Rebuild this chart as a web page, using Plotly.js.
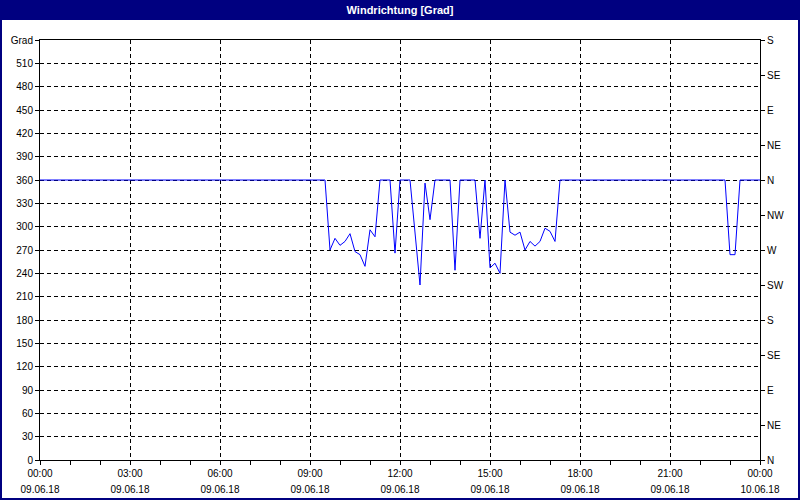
<!DOCTYPE html>
<html>
<head>
<meta charset="utf-8">
<script src="https://cdn.plot.ly/plotly-3.0.1.min.js"></script>
<style>
html,body{margin:0;padding:0;background:#fff;}
#chart{width:800px;height:500px;}
</style>
</head>
<body>
<div id="chart"></div>
<script>
const times = [
  "2018-06-09 00:00","2018-06-09 09:30","2018-06-09 09:40","2018-06-09 09:50","2018-06-09 10:00",
  "2018-06-09 10:10","2018-06-09 10:20","2018-06-09 10:30","2018-06-09 10:40","2018-06-09 10:50",
  "2018-06-09 11:00","2018-06-09 11:10","2018-06-09 11:20","2018-06-09 11:40","2018-06-09 11:50",
  "2018-06-09 12:00","2018-06-09 12:20","2018-06-09 12:30","2018-06-09 12:40","2018-06-09 12:50",
  "2018-06-09 13:00","2018-06-09 13:10","2018-06-09 13:40","2018-06-09 13:50","2018-06-09 14:00",
  "2018-06-09 14:30","2018-06-09 14:40","2018-06-09 14:50","2018-06-09 15:00","2018-06-09 15:10",
  "2018-06-09 15:20","2018-06-09 15:30","2018-06-09 15:40","2018-06-09 15:50","2018-06-09 16:00",
  "2018-06-09 16:10","2018-06-09 16:20","2018-06-09 16:30","2018-06-09 16:40","2018-06-09 16:50",
  "2018-06-09 17:00","2018-06-09 17:10","2018-06-09 17:20","2018-06-09 22:50","2018-06-09 23:00",
  "2018-06-09 23:10","2018-06-09 23:20","2018-06-10 00:00"
];
const direction = [
  360,360,270,285,276,
  281,291,268,264,249,
  296,287,360,360,266,
  360,360,290,225,356,
  309,360,360,244,360,
  360,285,360,247,253,
  240,360,293,289,293,
  270,281,275,281,298,
  294,281,360,360,264,
  264,360,360
];
const xTickVals = ["2018-06-09 00:00","2018-06-09 03:00","2018-06-09 06:00","2018-06-09 09:00","2018-06-09 12:00",
  "2018-06-09 15:00","2018-06-09 18:00","2018-06-09 21:00","2018-06-10 00:00"];
const xTimeLabels = ["00:00","03:00","06:00","09:00","12:00","15:00","18:00","21:00","00:00"];
const xDateLabels = ["09.06.18","09.06.18","09.06.18","09.06.18","09.06.18","09.06.18","09.06.18","09.06.18","10.06.18"];
const yTickVals = [0,30,60,90,120,150,180,210,240,270,300,330,360,390,420,450,480,510,540];
const yTickLabels = ["0","30","60","90","120","150","180","210","240","270","300","330","360","390","420","450","480","510","Grad"];
const compassVals = [0,45,90,135,180,225,270,315,360,405,450,495,540];
const compassLabels = ["N","NE","E","SE","S","SW","W","NW","N","NE","E","SE","S"];

const FONT = "Liberation Sans, Arial, sans-serif";
const navy = "#000080";
const xRange = ["2018-06-09 00:00","2018-06-10 00:00"];

const trace = {
  x: times, y: direction, type: "scatter", mode: "lines",
  line: {color: "#0000ff", width: 1},
  hoverinfo: "skip", showlegend: false
};

const W = 720, H = 420;
const layout = {
  width: 800, height: 500,
  margin: {l: 40, r: 40, t: 40, b: 40, pad: 0},
  paper_bgcolor: "#ffffff", plot_bgcolor: "#ffffff",
  font: {family: FONT, size: 10, color: "#000"},
  title: {text: "Windrichtung [Grad]", font: {family: FONT, size: 11, color: "#ffffff", weight: "bold"},
          x: 0.5, xanchor: "center", y: 1 - 10/500, yanchor: "middle", xref: "container", yref: "container"},
  showlegend: false,
  xaxis: {
    type: "date", range: xRange, tickvals: xTickVals, ticktext: xTimeLabels,
    showgrid: true, gridcolor: "#000", gridwidth: 1, griddash: "4px,3px",
    showline: true, linecolor: "#000", linewidth: 1, mirror: true,
    ticks: "outside", ticklen: 4, tickcolor: "#000", tickfont: {family: FONT, size: 10, color: "#000"},
    minor: {dtick: 3600000, ticks: "outside", ticklen: 4, tickcolor: "#000", showgrid: false},
    zeroline: false, fixedrange: true
  },
  xaxis2: {
    type: "date", range: xRange, overlaying: "x", anchor: "y", side: "bottom",
    tickvals: xTickVals, ticktext: xDateLabels, ticks: "", showgrid: false, showline: false,
    ticklabelstandoff: 22, tickfont: {family: FONT, size: 10, color: "#000"}, zeroline: false, fixedrange: true
  },
  yaxis: {
    range: [0, 540], tickvals: yTickVals, ticktext: yTickLabels,
    showgrid: true, gridcolor: "#000", gridwidth: 1, griddash: "4px,3px",
    showline: true, linecolor: "#000", linewidth: 1, mirror: true,
    ticks: "outside", ticklen: 4, tickcolor: "#000", tickfont: {family: FONT, size: 10, color: "#000"},
    zeroline: false, fixedrange: true
  },
  yaxis2: {
    range: [0, 540], overlaying: "y", side: "right", anchor: "x",
    tickvals: compassVals, ticktext: compassLabels, showgrid: false, zeroline: false,
    ticks: "outside", ticklen: 4, tickcolor: "#000", tickfont: {family: FONT, size: 10, color: "#000"},
    showline: false, fixedrange: true
  },
  shapes: [
    {type: "rect", xref: "paper", yref: "paper", layer: "below",
     x0: -40/W, x1: 1 + 40/W, y0: 1 + 20/H, y1: 1 + 40/H,
     fillcolor: navy, line: {width: 0}},
    {type: "rect", xref: "paper", yref: "paper", layer: "above",
     x0: -39/W, x1: 1 + 39/W, y0: -39/H, y1: 1 + 39/H,
     fillcolor: "rgba(0,0,0,0)", line: {color: navy, width: 2}}
  ]
};

const traces = [
  trace,
  {x: [xRange[0]], y: [null], xaxis: "x2", yaxis: "y", type: "scatter", mode: "lines", showlegend: false, hoverinfo: "skip"},
  {x: [xRange[0]], y: [null], xaxis: "x", yaxis: "y2", type: "scatter", mode: "lines", showlegend: false, hoverinfo: "skip"}
];

Plotly.newPlot("chart", traces, layout, {displayModeBar: false, staticPlot: true});
</script>
</body>
</html>
